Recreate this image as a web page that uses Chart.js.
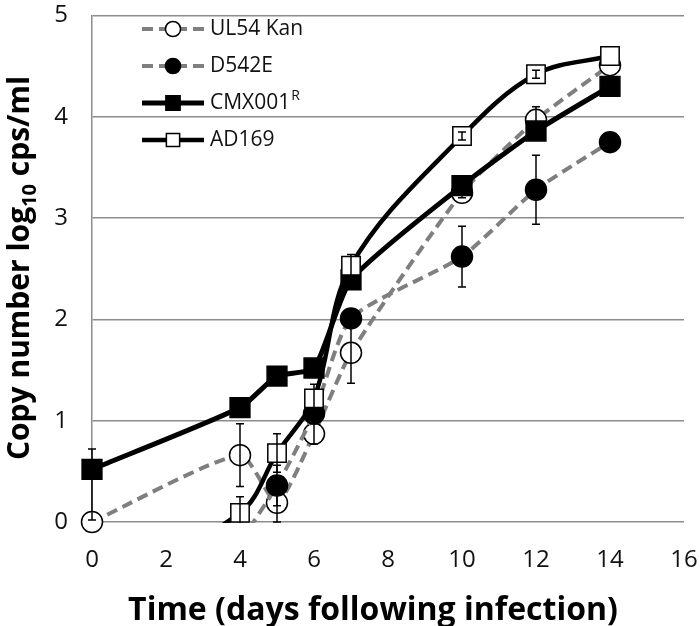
<!DOCTYPE html>
<html>
<head>
<meta charset="utf-8">
<script src="https://cdn.jsdelivr.net/npm/chart.js@4"></script>
<style>
html, body { margin: 0; padding: 0; background: #fff; }
#wrap { width: 700px; height: 626px; position: relative; }
</style>
</head>
<body>
<div id="wrap"><canvas id="chart"></canvas></div>
<script>
// days post infection
const days = [0, 4, 5, 6, 7, 10, 12, 14];

// log10 copies/ml (null = not measured, negatives fall below the axis)
const ul54Kan = [0, 0.66, 0.19, 0.87, 1.67, 3.25, 3.97, 4.51];
const d542e = [null, -0.2, 0.36, 1.07, 2.01, 2.62, 3.28, 3.75];
const cmx001r = [0.52, 1.13, 1.44, 1.52, 2.39, 3.32, 3.86, 4.3];
const ad169 = [-0.7, 0.09, 0.68, 1.22, 2.53, 3.81, 4.42, 4.6];

// error bars: number = +/-, [minus, plus] otherwise
const ul54KanErr = [null, 0.31, 0.19, 0.1, 0.3, 0.05, 0.13, null];
const d542eErr = [null, null, 0.2, null, null, 0.3, 0.34, null];
const cmx001rErr = [[0.5, 0.2], null, null, null, null, null, null, null];
const ad169Err = [null, 0.16, 0.19, 0.14, 0.11, 0.04, 0.04, null];

const yTicks = [0, 1, 2, 3, 4, 5];

const gray = '#7f7f7f';
const series = [
    { label: 'UL54 Kan', vals: ul54Kan, err: ul54KanErr, color: gray, width: 4, dash: [11, 6], style: 'circle', fill: '#fff', radius: 10.5, tension: 0.2, order: 3, clip: false },
    { label: 'D542E', vals: d542e, err: d542eErr, color: gray, width: 4, dash: [11, 6], style: 'circle', fill: '#000', radius: 10.5, tension: 0.2, order: 2, clip: { left: 30, top: 30, right: 30, bottom: 1 } },
    { label: 'CMX001', sup: 'R', vals: cmx001r, err: cmx001rErr, color: '#000', width: 5, dash: [], style: 'rect', fill: '#000', radius: 14, tension: 0.2, order: 1, clip: false },
    { label: 'AD169', vals: ad169, err: ad169Err, color: '#000', width: 4.5, dash: [], style: 'rect', fill: '#fff', radius: 13, tension: 0.35, order: 0, clip: { left: 30, top: 30, right: 30, bottom: 1 } }
];

function toPoints(vals) {
    return days.map((d, i) => vals[i] === null ? null : { x: d, y: vals[i] }).filter(p => p);
}

const extras = {
    id: 'extras',
    afterDatasetsDraw(chart) {
        const { ctx, chartArea: a, scales: { x, y } } = chart;
        ctx.save();
        ctx.beginPath();
        ctx.rect(a.left - 30, a.top, a.right - a.left + 60, a.bottom - a.top + 1);
        ctx.clip();
        ctx.strokeStyle = '#000';
        ctx.lineWidth = 1.5;
        series.forEach(s => s.err.forEach((e, i) => {
            if (e === null || s.vals[i] === null) return;
            const [lo, hi] = Array.isArray(e) ? e : [e, e];
            const px = x.getPixelForValue(days[i]);
            const y1 = y.getPixelForValue(s.vals[i] - lo);
            const y2 = y.getPixelForValue(s.vals[i] + hi);
            ctx.beginPath();
            ctx.moveTo(px, y1); ctx.lineTo(px, y2);
            ctx.moveTo(px - 4, y1); ctx.lineTo(px + 4, y1);
            ctx.moveTo(px - 4, y2); ctx.lineTo(px + 4, y2);
            ctx.stroke();
        }));
        ctx.restore();
    },
    afterDraw(chart) {
        const ctx = chart.ctx;
        // legend inside the plot
        const rows = [29, 66, 103, 140];
        series.forEach((s, i) => {
            const yy = rows[i];
            ctx.save();
            ctx.strokeStyle = s.color;
            ctx.lineWidth = s.width;
            ctx.setLineDash(s.dash);
            ctx.beginPath();
            ctx.moveTo(142, yy); ctx.lineTo(204, yy);
            ctx.stroke();
            ctx.setLineDash([]);
            ctx.fillStyle = s.fill;
            ctx.strokeStyle = '#000';
            ctx.lineWidth = 1.5;
            const r = s.radius * 0.72;
            ctx.beginPath();
            if (s.style === 'circle') {
                ctx.arc(173, yy, r, 0, Math.PI * 2);
            } else {
                const h = r * Math.SQRT1_2;
                ctx.rect(173 - h, yy - h, 2 * h, 2 * h);
            }
            ctx.fill();
            ctx.stroke();
            ctx.fillStyle = '#111';
            ctx.textBaseline = 'middle';
            ctx.font = '21px "Open Sans"';
            ctx.fillText(s.label, 210, yy);
            if (s.sup) {
                const w = ctx.measureText(s.label).width;
                ctx.font = '14px "Open Sans"';
                ctx.fillText(s.sup, 210 + w + 1, yy - 7);
            }
            ctx.restore();
        });

        // axis titles
        ctx.save();
        ctx.fillStyle = '#000';
        ctx.textBaseline = 'alphabetic';
        ctx.font = 'bold 32px "Open Sans"';
        ctx.textAlign = 'center';
        ctx.fillText('Time (days following infection)', 373, 620);
        ctx.textAlign = 'left';
        const parts = [
            ['Copy number log', 'bold 30px "Open Sans"', 0],
            ['10', 'bold 20px "Open Sans"', 7],
            [' cps/ml', 'bold 30px "Open Sans"', 0]
        ];
        let total = 0;
        parts.forEach(p => { ctx.font = p[1]; total += ctx.measureText(p[0]).width; });
        ctx.translate(29, 268);
        ctx.rotate(-Math.PI / 2);
        let cx = -total / 2;
        parts.forEach(p => {
            ctx.font = p[1];
            ctx.fillText(p[0], cx, p[2]);
            cx += ctx.measureText(p[0]).width;
        });
        ctx.restore();
    }
};

document.addEventListener('DOMContentLoaded', function() {
    new Chart(document.getElementById('chart'), {
        type: 'line',
        data: {
            datasets: series.map(s => ({
                label: s.label,
                data: toPoints(s.vals),
                borderColor: s.color,
                borderWidth: s.width,
                borderDash: s.dash,
                pointStyle: s.style,
                pointRadius: s.radius,
                pointBackgroundColor: s.fill,
                pointBorderColor: '#000',
                pointBorderWidth: 1.5,
                tension: s.tension,
                order: s.order,
                clip: s.clip
            }))
        },
        options: {
            responsive: true,
            maintainAspectRatio: false,
            animation: false,
            layout: { padding: { top: 12, right: 16, left: 0, bottom: 0 } },
            elements: { line: { capBezierPoints: false } },
            plugins: { legend: { display: false }, tooltip: { enabled: false } },
            scales: {
                x: {
                    type: 'linear',
                    min: 0, max: 16,
                    afterFit: s => { s.height = 104; s.paddingLeft = 0; s.paddingRight = 0; },
                    grid: { display: false, drawTicks: false },
                    border: { display: false },
                    ticks: { stepSize: 2, padding: 26, color: '#111', font: { family: 'Open Sans', size: 24, lineHeight: 1 } }
                },
                y: {
                    min: 0, max: 5,
                    afterFit: s => { s.width = 92; s.paddingTop = 0; s.paddingBottom = 0; },
                    afterBuildTicks: s => { s.ticks = yTicks.map(v => ({ value: v })); },
                    grid: { color: '#8c8c8c', lineWidth: 1.5, drawTicks: false },
                    border: { display: true, color: '#8c8c8c', width: 1.5 },
                    ticks: { padding: 24, color: '#111', font: { family: 'Open Sans', size: 24, lineHeight: 1 } }
                }
            }
        },
        plugins: [extras]
    });
});
</script>
</body>
</html>
